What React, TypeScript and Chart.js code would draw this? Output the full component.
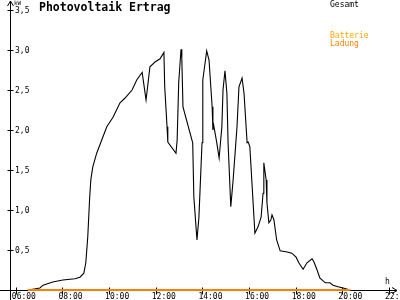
import React, { useEffect, useRef } from "react";
import { Chart, registerables } from "chart.js";

Chart.register(...registerables);

const TITLE = "Photovoltaik Ertrag";
const Y_UNIT = "kW";
const X_UNIT = "h";
const SERIES_NAMES = ["Gesamt", "Batterie", "Ladung"];
const SERIES_COLORS = ["#000000", "#FFAA00", "#FF8000"];

const X_TICK_HOURS = [6, 8, 10, 12, 14, 16, 18, 20, 22];
const X_TICK_LABELS = ["06:00", "08:00", "10:00", "12:00", "14:00", "16:00", "18:00", "20:00", "22:00"];
const Y_TICK_VALUES = [0.5, 1, 1.5, 2, 2.5, 3, 3.5];
const Y_TICK_LABELS = ["0,5", "1,0", "1,5", "2,0", "2,5", "3,0", "3,5"];

const TIMES = [
  "06:31", "06:44", "07:02", "07:10", "07:35", "08:01", "08:32", "08:45", "08:55", "09:00",
  "09:05", "09:08", "09:10", "09:13", "09:18", "09:28", "09:41", "09:54", "10:10", "10:28",
  "10:41", "10:59", "11:11", "11:25", "11:35", "11:45", "11:58", "12:11", "12:21", "12:23",
  "12:29", "12:31", "12:52", "12:55", "12:59", "13:05", "13:07", "13:10", "13:35", "13:38",
  "13:46", "13:51", "13:59", "14:01", "14:11", "14:17", "14:25", "14:27", "14:29", "14:37",
  "14:43", "14:50", "14:53", "14:58", "15:03", "15:06", "15:13", "15:19", "15:29", "15:34",
  "15:42", "15:47", "15:55", "15:58", "16:02", "16:10", "16:15", "16:23", "16:31", "16:36",
  "16:38", "16:44", "16:46", "16:51", "16:56", "16:59", "17:04", "17:11", "17:20", "17:38",
  "17:50", "18:01", "18:08", "18:19", "18:29", "18:42", "18:47", "18:55", "19:02", "19:16",
  "19:28", "19:36", "19:49", "20:02", "20:20",
];

const GESAMT = [
  0.0, 0.01, 0.025, 0.06, 0.1, 0.125, 0.14, 0.16, 0.21, 0.34,
  0.66, 0.96, 1.16, 1.38, 1.54, 1.71, 1.875, 2.04, 2.16, 2.34,
  2.4, 2.5, 2.625, 2.72, 2.375, 2.79, 2.85, 2.89, 2.97, 2.54,
  2.04, 1.85, 1.71, 1.875, 2.59, 3.01, 2.9, 2.29, 1.84, 1.16,
  0.625, 0.91, 1.84, 2.625, 2.99, 2.875, 2.29, 2.0, 2.06, 1.84,
  1.65, 2.04, 2.5, 2.74, 2.46, 1.84, 1.04, 1.375, 2.04, 2.54,
  2.65, 2.46, 1.84, 1.85, 1.79, 1.125, 0.71, 0.79, 0.91, 1.21,
  1.59, 1.375, 1.09, 0.84, 0.875, 0.94, 0.875, 0.625, 0.49, 0.475,
  0.46, 0.41, 0.34, 0.26, 0.34, 0.39, 0.35, 0.25, 0.15, 0.09,
  0.09, 0.06, 0.04, 0.025, 0.0,
];

const BATTERIE = TIMES.map(() => 0);
const LADUNG = TIMES.map(() => 0);

const toHours = (s: string) => {
  const [h, m] = s.split(":").map(Number);
  return h + m / 60;
};

const MONO = "'DejaVu Sans Mono', monospace";

const axesPlugin = {
  id: "customAxes",
  beforeDatasetsDraw(chart: any) {
    const ctx = chart.ctx;
    const xs = chart.scales.x;
    const ys = chart.scales.y;
    const y0 = Math.round(ys.getPixelForValue(0)) + 0.5;
    const xAxis = Math.round(chart.chartArea.left) + 0.5;
    ctx.save();
    ctx.strokeStyle = "#000";
    ctx.lineWidth = 1;
    ctx.beginPath();
    ctx.moveTo(0, y0);
    ctx.lineTo(397, y0);
    ctx.moveTo(397, y0);
    ctx.lineTo(392, y0 - 3);
    ctx.moveTo(397, y0);
    ctx.lineTo(392, y0 + 3);
    ctx.moveTo(xAxis, 300);
    ctx.lineTo(xAxis, 1);
    ctx.moveTo(xAxis, 1);
    ctx.lineTo(xAxis - 3, 6);
    ctx.moveTo(xAxis, 1);
    ctx.lineTo(xAxis + 3, 6);
    Y_TICK_VALUES.forEach((v) => {
      const py = Math.round(ys.getPixelForValue(v)) + 0.5;
      ctx.moveTo(xAxis - 3, py);
      ctx.lineTo(xAxis + 3, py);
    });
    X_TICK_HOURS.forEach((h) => {
      const px = Math.round(xs.getPixelForValue(h)) + 0.5;
      ctx.moveTo(px, y0 - 3);
      ctx.lineTo(px, y0 + 4);
    });
    ctx.stroke();
    ctx.restore();
  },
  afterDraw(chart: any) {
    const ctx = chart.ctx;
    const xs = chart.scales.x;
    const ys = chart.scales.y;
    const y0 = ys.getPixelForValue(0);
    const xAxis = chart.chartArea.left;
    ctx.save();
    ctx.fillStyle = "#000";
    ctx.font = `8px ${MONO}`;
    ctx.textBaseline = "middle";
    ctx.textAlign = "left";
    Y_TICK_VALUES.forEach((v, i) => {
      ctx.fillText(Y_TICK_LABELS[i], xAxis + 5, ys.getPixelForValue(v) + 0.5);
    });
    ctx.textBaseline = "top";
    X_TICK_HOURS.forEach((h, i) => {
      ctx.fillText(X_TICK_LABELS[i], xs.getPixelForValue(h) - 4, y0 + 3);
    });
    ctx.textBaseline = "middle";
    ctx.fillText(X_UNIT, 385, y0 - 8);
    ctx.font = `6px ${MONO}`;
    ctx.fillText(Y_UNIT, xAxis + 4, 3);
    ctx.font = `bold 11.5px ${MONO}`;
    ctx.textBaseline = "top";
    ctx.fillText(TITLE, 39, 2);
    ctx.font = `8px ${MONO}`;
    ctx.textBaseline = "middle";
    ctx.fillStyle = SERIES_COLORS[0];
    ctx.fillText(SERIES_NAMES[0], 330, 5);
    ctx.fillStyle = SERIES_COLORS[1];
    ctx.fillText(SERIES_NAMES[1], 330, 36);
    ctx.fillStyle = SERIES_COLORS[2];
    ctx.fillText(SERIES_NAMES[2], 330, 44);
    ctx.restore();
  },
};

export default function App() {
  const ref = useRef<HTMLCanvasElement>(null);
  useEffect(() => {
    document.body.style.margin = "0";
    const xVals = TIMES.map(toHours);
    const chart = new Chart(ref.current!, {
      type: "line",
      data: {
        datasets: [
          {
            label: SERIES_NAMES[0],
            data: xVals.map((x, i) => ({ x, y: GESAMT[i] })),
            borderColor: SERIES_COLORS[0],
            borderWidth: 1.1,
            pointRadius: 0,
            tension: 0,
            clip: 10,
            order: 3,
          },
          {
            label: SERIES_NAMES[1],
            data: xVals.map((x, i) => ({ x, y: BATTERIE[i] })),
            borderColor: SERIES_COLORS[1],
            borderWidth: 2,
            pointRadius: 0,
            clip: 10,
            order: 2,
          },
          {
            label: SERIES_NAMES[2],
            data: xVals.map((x, i) => ({ x, y: LADUNG[i] })),
            borderColor: SERIES_COLORS[2],
            borderWidth: 2,
            pointRadius: 0,
            clip: 10,
            order: 1,
          },
        ],
      },
      options: {
        responsive: false,
        animation: false,
        layout: { padding: { left: 10, top: 10, right: 11, bottom: 10 } },
        plugins: { legend: { display: false }, tooltip: { enabled: false } },
        scales: {
          x: { type: "linear", min: 5.75, max: 22, display: false },
          y: { type: "linear", min: 0, max: 3.5, display: false },
        },
      },
      plugins: [axesPlugin],
    });
    return () => chart.destroy();
  }, []);
  return (
    <div style={{ width: 400, height: 300, background: "#fff" }}>
      <canvas ref={ref} width={400} height={300} />
    </div>
  );
}
